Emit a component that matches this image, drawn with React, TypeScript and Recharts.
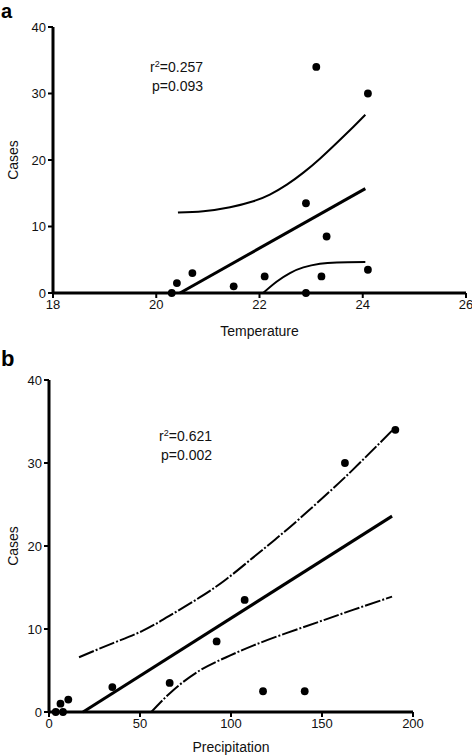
import { ComposedChart, Line, Scatter, XAxis, YAxis } from "recharts";

// observations (same 12 months in both panels)
const TEMPERATURE = [20.3, 20.4, 20.7, 21.5, 22.1, 22.9, 22.9, 23.1, 23.2, 23.3, 24.1, 24.1];
const TEMP_CASES = [0, 1.5, 3, 1, 2.5, 13.5, 0, 34, 2.5, 8.5, 30, 3.5];

const PRECIPITATION = [3.7, 6.3, 7.7, 10.6, 34.8, 66.3, 92.1, 107.5, 117.6, 140.5, 162.6, 190.3];
const PRECIP_CASES = [0, 1, 0, 1.5, 3, 3.5, 8.5, 13.5, 2.5, 2.5, 30, 34];

// fitted line and 95% bands
const TEMP_FIT_X = [20.46, 24.05];
const TEMP_FIT_Y = [0, 15.7];
const TEMP_UPPER_X = [20.42, 20.91, 21.43, 21.88, 22.2, 22.53, 22.85, 23.17, 23.5, 23.82, 24.05];
const TEMP_UPPER_Y = [12.1, 12.3, 12.9, 13.8, 14.8, 16.3, 18.1, 20.2, 22.6, 25.0, 26.8];
const TEMP_LOWER_X = [22.07, 22.33, 22.59, 22.85, 23.17, 23.5, 24.05];
const TEMP_LOWER_Y = [0, 1.7, 3.0, 3.85, 4.4, 4.6, 4.65];

const PRECIP_FIT_X = [18.7, 188.5];
const PRECIP_FIT_Y = [0, 23.6];
const PRECIP_UPPER_X = [16.5, 35.2, 51.6, 66.3, 82.8, 97.4, 112.1, 124.9, 137.7, 152.4, 167.0, 188.5];
const PRECIP_UPPER_Y = [6.6, 8.3, 9.8, 11.6, 13.8, 16.0, 18.6, 20.9, 23.3, 26.2, 29.2, 33.9];
const PRECIP_LOWER_X = [56.2, 68.1, 82.8, 97.4, 112.1, 130.4, 148.7, 167.0, 188.5];
const PRECIP_LOWER_Y = [0, 2.6, 5.0, 6.6, 8.0, 9.5, 10.9, 12.3, 13.9];

const TEMP_TICKS = [18, 20, 22, 24, 26];
const PRECIP_TICKS = [0, 50, 100, 150, 200];
const CASE_TICKS = [0, 10, 20, 30, 40];

const zip = (xs: number[], ys: number[]) => xs.map((x, i) => ({ x, y: ys[i] }));

const FONT = "'Liberation Sans', Arial, Helvetica, sans-serif";
const TICK = { fontSize: 13, fill: "#111", fontFamily: FONT };
const TITLE = { fontSize: 14, fill: "#111", fontFamily: FONT };

const Dot = (p: any) => <circle cx={p.cx} cy={p.cy} r={3.9} fill="#000" />;

function Panel({
  points,
  fit,
  upper,
  lower,
  xDomain,
  xTicks,
  xLabel,
  width,
  height,
  margin,
  yWidth,
  xHeight,
  bandDash,
}: {
  points: { x: number; y: number }[];
  fit: { x: number; y: number }[];
  upper: { x: number; y: number }[];
  lower: { x: number; y: number }[];
  xDomain: [number, number];
  xTicks: number[];
  xLabel: string;
  width: number;
  height: number;
  margin: { top: number; right: number; left: number; bottom: number };
  yWidth: number;
  xHeight: number;
  bandDash?: string;
}) {
  return (
    <ComposedChart width={width} height={height} margin={margin}>
      <XAxis
        type="number"
        dataKey="x"
        domain={xDomain}
        ticks={xTicks}
        interval={0}
        height={xHeight}
        tick={TICK}
        tickSize={5}
        axisLine={{ stroke: "#000", strokeWidth: 3 }}
        tickLine={{ stroke: "#000", strokeWidth: 2 }}
        label={{ value: xLabel, position: "insideBottom", offset: 4, style: TITLE }}
      />
      <YAxis
        type="number"
        dataKey="y"
        domain={[0, 40]}
        ticks={CASE_TICKS}
        interval={0}
        width={yWidth}
        tick={TICK}
        tickSize={5}
        axisLine={{ stroke: "#000", strokeWidth: 3 }}
        tickLine={{ stroke: "#000", strokeWidth: 2 }}
        label={{ value: "Cases", angle: -90, position: "insideLeft", offset: 13, style: { ...TITLE, textAnchor: "middle" } }}
      />
      <Line data={upper} dataKey="y" type="natural" stroke="#000" strokeWidth={2} strokeDasharray={bandDash} dot={false} isAnimationActive={false} />
      <Line data={lower} dataKey="y" type="natural" stroke="#000" strokeWidth={2} strokeDasharray={bandDash} dot={false} isAnimationActive={false} />
      <Line data={fit} dataKey="y" type="linear" stroke="#000" strokeWidth={3} dot={false} isAnimationActive={false} />
      <Scatter data={points} fill="#000" shape={Dot} isAnimationActive={false} />
    </ComposedChart>
  );
}

function Stats({ r2, p, right, top }: { r2: string; p: string; right: number; top: number }) {
  return (
    <div style={{ position: "absolute", left: 0, width: right, top, textAlign: "right", fontSize: 14, lineHeight: "17px", fontFamily: FONT, color: "#111" }}>
      <div>
        r<span style={{ fontSize: 9, position: "relative", top: -5 }}>2</span>={r2}
      </div>
      <div>p={p}</div>
    </div>
  );
}

export default function App() {
  return (
    <div style={{ position: "absolute", left: 0, top: 0, width: 472, height: 756, background: "#fff", fontFamily: FONT }}>
      <div style={{ position: "absolute", left: 1, top: 0, fontSize: 20, lineHeight: "23px", fontWeight: 700 }}>a</div>
      <div style={{ position: "absolute", left: 0, top: 0 }}>
        <Panel
          points={zip(TEMPERATURE, TEMP_CASES)}
          fit={zip(TEMP_FIT_X, TEMP_FIT_Y)}
          upper={zip(TEMP_UPPER_X, TEMP_UPPER_Y)}
          lower={zip(TEMP_LOWER_X, TEMP_LOWER_Y)}
          xDomain={[18, 26]}
          xTicks={TEMP_TICKS}
          xLabel="Temperature"
          width={472}
          height={340}
          margin={{ top: 27, right: 6, left: 0, bottom: 0 }}
          yWidth={53}
          xHeight={47}
        />
      </div>
      <Stats r2="0.257" p="0.093" right={203} top={59} />

      <div style={{ position: "absolute", left: 1, top: 348, fontSize: 22, lineHeight: "22px", fontWeight: 700 }}>b</div>
      <div style={{ position: "absolute", left: 0, top: 340 }}>
        <Panel
          points={zip(PRECIPITATION, PRECIP_CASES)}
          fit={zip(PRECIP_FIT_X, PRECIP_FIT_Y)}
          upper={zip(PRECIP_UPPER_X, PRECIP_UPPER_Y)}
          lower={zip(PRECIP_LOWER_X, PRECIP_LOWER_Y)}
          xDomain={[0, 200]}
          xTicks={PRECIP_TICKS}
          xLabel="Precipitation"
          width={472}
          height={416}
          margin={{ top: 40, right: 59, left: 0, bottom: 0 }}
          yWidth={49}
          xHeight={44}
          bandDash="16 2 2 2"
        />
      </div>
      <Stats r2="0.621" p="0.002" right={212} top={428} />
    </div>
  );
}
